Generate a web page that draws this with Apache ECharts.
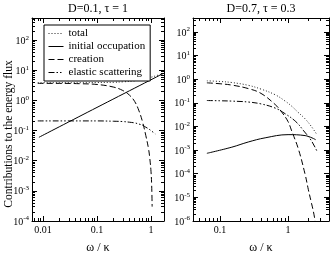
<!DOCTYPE html>
<html><head><meta charset="utf-8">
<script src="https://cdn.jsdelivr.net/npm/echarts@6/dist/echarts.min.js"></script>
<style>html,body{margin:0;padding:0;background:#fff}#c{width:332px;height:259px}</style>
</head><body><div id="c"></div>
<script>
const FONT = '"Liberation Serif", "DejaVu Serif", "Times New Roman", serif';

// ---------- Left panel: D=0.1, tau = 1 ----------
const leftTitle = 'D=0.1, τ = 1';
const leftTotalW = [0.008, 0.02, 0.05, 0.1, 0.2, 0.3, 0.5, 0.8, 1.0, 1.3, 1.6];
const leftTotalV = [3.9, 3.9, 3.9, 3.95, 4.0, 4.15, 4.5, 5.3, 5.9, 6.8, 7.6];
const leftInitW = [0.0084, 0.1, 1.67];
const leftInitV = [0.06, 0.59, 7.8];
const leftCreatW = [0.008, 0.02, 0.05, 0.1, 0.2, 0.3, 0.4, 0.5, 0.6, 0.7, 0.8, 0.9, 0.95, 1.0, 1.03, 1.05];
const leftCreatV = [3.7, 3.7, 3.6, 3.4, 2.8, 2.15, 1.5, 0.92, 0.45, 0.19, 0.07, 0.025, 0.012, 0.0045, 0.0015, 0.0003];
const leftElastW = [0.008, 0.05, 0.1, 0.2, 0.3, 0.4, 0.5, 0.6, 0.7, 0.8, 0.9, 1.0, 1.1, 1.2];
const leftElastV = [0.21, 0.21, 0.21, 0.205, 0.2, 0.19, 0.18, 0.165, 0.15, 0.13, 0.115, 0.1, 0.088, 0.078];
const leftXTicks = [0.01, 0.1, 1];
const leftYTicks = [-4, -3, -2, -1, 0, 1, 2];

// ---------- Right panel: D=0.7, tau = 0.3 ----------
const rightTitle = 'D=0.7, τ = 0.3';
const rightTotalW = [0.064, 0.1, 0.15, 0.26, 0.4, 0.645, 0.9, 1.13, 1.4, 1.78, 2.2, 2.66];
const rightTotalV = [0.85, 0.8, 0.72, 0.55, 0.38, 0.22, 0.12, 0.072, 0.04, 0.021, 0.01, 0.0045];
const rightInitW = [0.064, 0.149, 0.26, 0.46, 1.0, 1.78, 2.55];
const rightInitV = [0.00073, 0.00133, 0.0022, 0.0033, 0.0045, 0.0041, 0.00275];
const rightCreatW = [0.064, 0.1, 0.15, 0.26, 0.4, 0.645, 0.81, 1.0, 1.13, 1.42, 1.78, 1.99, 2.2, 2.36, 2.5];
const rightCreatV = [0.7, 0.64, 0.56, 0.4, 0.25, 0.085, 0.04, 0.016, 0.0065, 0.0011, 0.000095, 0.000021, 0.000006, 0.0000025, 0.000001];
const rightElastW = [0.064, 0.1, 0.15, 0.26, 0.4, 0.645, 0.9, 1.3, 1.7, 2.2, 2.66];
const rightElastV = [0.125, 0.122, 0.118, 0.108, 0.09, 0.06, 0.035, 0.016, 0.0065, 0.0025, 0.0009];
const rightXTicks = [0.1, 1];
const rightYTicks = [-6, -5, -4, -3, -2, -1, 0, 1, 2];

const seriesNames = ['total', 'initial occupation', 'creation', 'elastic scattering'];
const xName = 'ω / κ';
const yName = 'Contributions to the energy flux';

const L = Math.log10;
function pts(w, v) { return w.map((x, i) => [L(x), L(v[i])]); }
function minorList(min, max) {
  const out = [];
  for (let d = Math.floor(min) - 1; d <= Math.ceil(max); d++) {
    for (let k = 2; k <= 9; k++) {
      const p = d + L(k);
      if (p > min && p < max) out.push(p);
    }
  }
  return out;
}
const styles = [
  { color: '#222', width: 1, type: [1, 2] },
  { color: '#000', width: 1, type: 'solid' },
  { color: '#000', width: 1, type: [6, 3] },
  { color: '#000', width: 1, type: [6, 2, 1.5, 2, 1.5, 2] }
];

const grids = [
  { left: 32, top: 18, width: 132, height: 219 },
  { left: 193, top: 18, width: 136, height: 219 }
];
const ranges = [
  { x: [-2.204, 0.241], y: [-4, 2.738], xt: leftXTicks.map(L), yt: leftYTicks },
  { x: [L(0.04), L(4)], y: [-6, 2.588], xt: rightXTicks.map(L), yt: rightYTicks }
];

const xAxes = [], yAxes = [];
function fmtX(v) {
  const e = Math.round(v);
  return e >= 0 ? String(Math.pow(10, e)) : Math.pow(10, e).toFixed(-e);
}
function fmtY(v) {
  return '{b|10}{s|' + Math.round(v) + '}';
}
ranges.forEach((r, g) => {
  const xm = minorList(r.x[0], r.x[1]);
  const ym = minorList(r.y[0], r.y[1]);
  const line = { show: true, onZero: false, lineStyle: { color: '#000', width: 1 } };
  const noLine = { show: false, onZero: false };
  xAxes.push({
    type: 'value', gridIndex: g, position: 'bottom', min: r.x[0], max: r.x[1],
    axisLine: line, splitLine: { show: false },
    axisTick: { inside: true, length: 5, customValues: r.xt, lineStyle: { color: '#000' } },
    axisLabel: { customValues: r.xt, formatter: fmtX, fontFamily: FONT, fontSize: 10, color: '#000', margin: 4 },
    name: xName, nameLocation: 'middle', nameGap: 21,
    nameTextStyle: { fontFamily: FONT, fontSize: 12, color: '#000' }
  });
  xAxes.push({
    type: 'value', gridIndex: g, position: 'bottom', min: r.x[0], max: r.x[1],
    axisLine: noLine, splitLine: { show: false }, axisLabel: { show: false },
    axisTick: { inside: true, length: 3, customValues: xm, lineStyle: { color: '#000' } }
  });
  xAxes.push({
    type: 'value', gridIndex: g, position: 'top', min: r.x[0], max: r.x[1],
    axisLine: line, splitLine: { show: false }, axisLabel: { show: false },
    axisTick: { inside: true, length: 5, customValues: r.xt, lineStyle: { color: '#000' } }
  });
  xAxes.push({
    type: 'value', gridIndex: g, position: 'top', min: r.x[0], max: r.x[1],
    axisLine: noLine, splitLine: { show: false }, axisLabel: { show: false },
    axisTick: { inside: true, length: 3, customValues: xm, lineStyle: { color: '#000' } }
  });
  yAxes.push({
    type: 'value', gridIndex: g, position: 'left', min: r.y[0], max: r.y[1],
    axisLine: line, splitLine: { show: false },
    axisTick: { inside: true, length: 5, customValues: r.yt, lineStyle: { color: '#000' } },
    axisLabel: {
      customValues: r.yt, formatter: fmtY, margin: 3, color: '#000',
      rich: {
        b: { fontFamily: FONT, fontSize: 10, color: '#000', verticalAlign: 'bottom', lineHeight: 12 },
        s: { fontFamily: FONT, fontSize: 7, color: '#000', verticalAlign: 'top', lineHeight: 8 }
      }
    }
  });
  yAxes.push({
    type: 'value', gridIndex: g, position: 'left', min: r.y[0], max: r.y[1],
    axisLine: noLine, splitLine: { show: false }, axisLabel: { show: false },
    axisTick: { inside: true, length: 3, customValues: ym, lineStyle: { color: '#000' } }
  });
  yAxes.push({
    type: 'value', gridIndex: g, position: 'right', min: r.y[0], max: r.y[1],
    axisLine: line, splitLine: { show: false }, axisLabel: { show: false },
    axisTick: { inside: true, length: 5, customValues: r.yt, lineStyle: { color: '#000' } }
  });
  yAxes.push({
    type: 'value', gridIndex: g, position: 'right', min: r.y[0], max: r.y[1],
    axisLine: noLine, splitLine: { show: false }, axisLabel: { show: false },
    axisTick: { inside: true, length: 3, customValues: ym, lineStyle: { color: '#000' } }
  });
});

const panelData = [
  [pts(leftTotalW, leftTotalV), pts(leftInitW, leftInitV), pts(leftCreatW, leftCreatV), pts(leftElastW, leftElastV)],
  [pts(rightTotalW, rightTotalV), pts(rightInitW, rightInitV), pts(rightCreatW, rightCreatV), pts(rightElastW, rightElastV)]
];
const series = [];
panelData.forEach((arr, g) => {
  arr.forEach((d, i) => {
    series.push({
      name: seriesNames[i], type: 'line', data: d,
      xAxisIndex: g * 4, yAxisIndex: g * 4,
      showSymbol: false, symbol: 'none', smooth: 0.4,
      lineStyle: styles[i], itemStyle: { color: styles[i].color },
      silent: true, animation: false, z: 3
    });
  });
});

const chart = echarts.init(document.getElementById('c'), null, { renderer: 'canvas' });
chart.setOption({
  animation: false,
  backgroundColor: '#fff',
  grid: grids,
  xAxis: xAxes,
  yAxis: yAxes,
  series: series,
  legend: {
    data: seriesNames, orient: 'vertical', left: 44, top: 25,
    itemWidth: 15, itemHeight: 10, itemGap: 2, itemTextGap: 5,
    borderColor: '#000', borderWidth: 1, borderRadius: 0, padding: [3, 5, 3, 4],
    backgroundColor: '#fff',
    textStyle: { fontFamily: FONT, fontSize: 11, color: '#000', lineHeight: 10 },
    itemStyle: { opacity: 0 },
    lineStyle: { width: 1 },
    selectedMode: false
  },
  graphic: [
    { type: 'text', x: 98, y: 9, style: { text: leftTitle, align: 'center', verticalAlign: 'middle', font: '12px ' + FONT, fill: '#000' } },
    { type: 'text', x: 261, y: 9, style: { text: rightTitle, align: 'center', verticalAlign: 'middle', font: '12px ' + FONT, fill: '#000' } },
    { type: 'text', x: 9, y: 134, rotation: Math.PI / 2, style: { text: yName, align: 'center', verticalAlign: 'middle', font: '11.5px ' + FONT, fill: '#000' } }
  ]
});
</script>
</body></html>
